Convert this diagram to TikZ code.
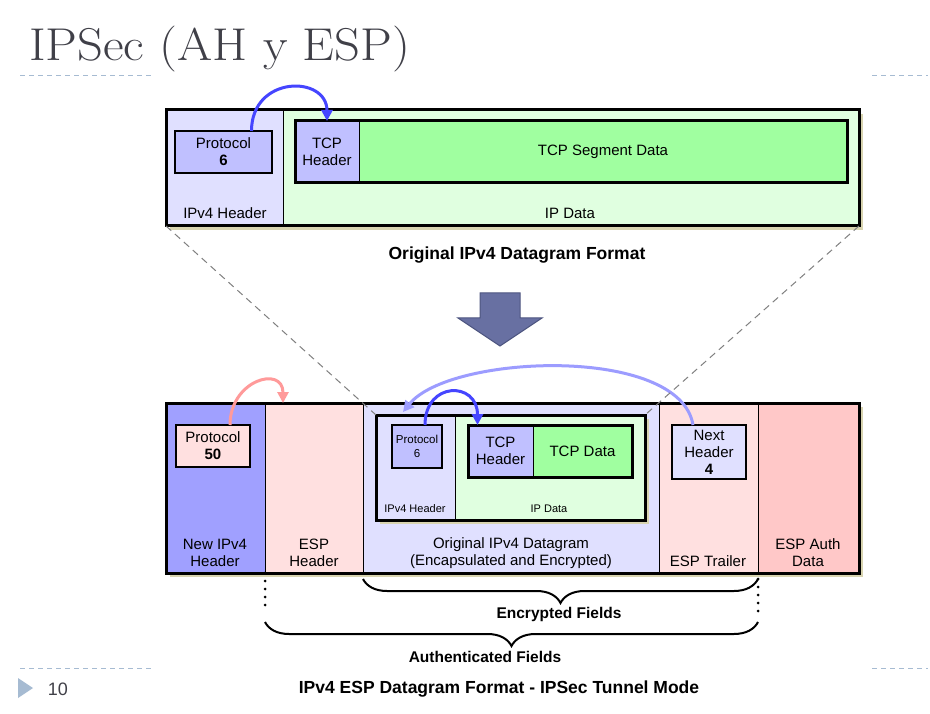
\documentclass[tikz,border=0pt]{standalone}
\usepackage{tikz}
\usepackage{graphicx}
\usepackage{fontspec}
\setsansfont{Liberation Sans}
\usetikzlibrary{arrows.meta}
\usetikzlibrary{shadows}
\usetikzlibrary{decorations.pathreplacing}
\definecolor{lavlight}{HTML}{E0E0FF}
\definecolor{lavmid}{HTML}{C0C0FF}
\definecolor{lavdark}{HTML}{A0A0FF}
\definecolor{greenlight}{HTML}{E0FFE0}
\definecolor{greenmid}{HTML}{A0FFA0}
\definecolor{pinklight}{HTML}{FFE0E0}
\definecolor{pinkmid}{HTML}{FFC8C8}
\definecolor{shadowtan}{HTML}{D8D4B0}
\definecolor{arrowblue}{HTML}{4545FF}
\definecolor{arrowpale}{HTML}{9C9CFF}
\definecolor{arrowpink}{HTML}{FF9A9A}
\definecolor{slate}{HTML}{6870A2}
\definecolor{slatedark}{HTML}{4E5680}
\definecolor{slidegray}{HTML}{404048}
\definecolor{slideblue}{HTML}{A6BBD2}

\begin{document}
\begin{tikzpicture}[x=1pt, y=-1pt]
				\tikzstyle{datafield}=[draw, line width=1pt, inner sep=0pt, outer sep=0pt, anchor=north west, font=\sffamily\fontsize{15}{17}\selectfont, align=center]
				\tikzstyle{outframe}=[draw, line width=3pt, fill=white, inner sep=0pt, outer sep=0pt, anchor=north west, drop shadow={shadow xshift=4pt, shadow yshift=-4pt, fill=shadowtan, opacity=1}]
				\tikzstyle{lbl}=[font=\sffamily\fontsize{15}{17}\selectfont, align=center, inner sep=0pt]
				\tikzstyle{smalllbl}=[font=\sffamily\fontsize{11}{13}\selectfont, inner sep=0pt]
				\tikzstyle{capt}=[font=\sffamily\bfseries\fontsize{17.5}{20}\selectfont, inner sep=0pt]
				\tikzstyle{bracelbl}=[font=\sffamily\bfseries\fontsize{15.5}{18}\selectfont, inner sep=0pt]
				\tikzstyle{hop}=[line width=3pt, -{Triangle[length=11pt,width=11pt]}]
				\tikzstyle{zoomline}=[line width=1pt, gray, dash pattern=on 7pt off 5pt]
				\tikzstyle{fieldbrace}=[decorate, decoration={brace, mirror, amplitude=24pt}, line width=2pt]
				\tikzstyle{dotcol}=[line width=3pt, line cap=round, dash pattern=on 0pt off 8pt]
				\tikzstyle{slidedash}=[slideblue, line width=1pt, dash pattern=on 5pt off 4pt]
				%page
				\fill[white] (0,0) rectangle (930,714);
				\useasboundingbox (0,0) rectangle (930,714);
				%%% SLIDE %%%
				%title
				\node[anchor=base west, inner sep=0pt, text=slidegray, font=\fontsize{46}{50}\selectfont] (title) at (29,61) {\scalebox{1.1}[1]{IPSec (AH y ESP)}};
				%separators
				\draw[slidedash] (20,76) -- (153,76);
				\draw[slidedash] (872,76) -- (928,76);
				\draw[slidedash] (20,668) -- (153,668);
				\draw[slidedash] (872,668) -- (928,668);
				%page number
				\fill[slideblue] (18,678) -- (33,688) -- (18,698) -- cycle;
				\node[text=slidegray, font=\sffamily\fontsize{18}{20}\selectfont, inner sep=0pt] (pagenum) at (58,689) {10};
				%%% ORIGINAL DATAGRAM %%%
				\node[outframe, minimum width=693pt, minimum height=116pt] (topframe) at (166,110) {};
				\node[datafield, fill=lavlight, minimum width=117pt, minimum height=116pt] (tophdr) at (166,110) {};
				\node[datafield, fill=greenlight, minimum width=576pt, minimum height=116pt] (topdata) at (tophdr.north east) {};
				\draw[line width=3pt] (topframe.north west) rectangle (topframe.south east);
				%protocol field
				\node[datafield, line width=2pt, fill=lavmid, minimum width=97pt, minimum height=42pt] (topproto) at (175,131) {Protocol\\\textbf{6}};
				%tcp segment
				\node[datafield, fill=lavmid, minimum width=64pt, minimum height=62pt] (toptcphdr) at (295,121) {TCP\\Header};
				\node[datafield, fill=greenmid, minimum width=488pt, minimum height=62pt] (toptcpdata) at (toptcphdr.north east) {TCP Segment Data};
				\draw[line width=3pt] (toptcphdr.north west) rectangle (toptcpdata.south east);
				%labels
				\node[lbl] (tophdrlbl) at (225,213) {IPv4 Header};
				\node[lbl] (topdatalbl) at (570,213) {IP Data};
				\node[capt] (topcapt) at (517,255) {Original IPv4 Datagram Format};
				%protocol arrow
				\draw[hop, arrowblue] ([xshift=28pt]topproto.north) .. controls +(0,-56) and +(0,-46) .. (toptcphdr.north);
				%%% BIG ARROW %%%
				\filldraw[fill=slate, draw=slatedark, line width=1pt] (480,293) -- (520,293) -- (520,318) -- (542,318) -- (500,346) -- (458,318) -- (480,318) -- cycle;
				%%% ESP DATAGRAM %%%
				\node[outframe, minimum width=693pt, minimum height=170pt] (botframe) at (166,403) {};
				\node[datafield, fill=lavdark, minimum width=99pt, minimum height=170pt] (newhdr) at (166,403) {};
				\node[datafield, fill=pinklight, minimum width=98pt, minimum height=170pt] (esphdr) at (newhdr.north east) {};
				\node[datafield, fill=lavlight, minimum width=296pt, minimum height=170pt] (orig) at (esphdr.north east) {};
				\node[datafield, fill=pinklight, minimum width=99pt, minimum height=170pt] (esptrl) at (orig.north east) {};
				\node[datafield, fill=pinkmid, minimum width=101pt, minimum height=170pt] (espauth) at (esptrl.north east) {};
				\draw[line width=3pt] (botframe.north west) rectangle (botframe.south east);
				%field labels
				\node[lbl] (newhdrlbl) at (215,553) {New IPv4\\Header};
				\node[lbl] (esphdrlbl) at (314,553) {ESP\\Header};
				\node[lbl] (origlbl) at (511,553) {Original IPv4 Datagram\\(Encapsulated and Encrypted)};
				\node[lbl] (esptrllbl) at (708,561) {ESP Trailer};
				\node[lbl] (espauthlbl) at (808,553) {ESP Auth\\Data};
				%new protocol field
				\node[datafield, line width=2pt, fill=pinklight, minimum width=74pt, minimum height=42pt] (proto50) at (176,425) {Protocol\\\textbf{50}};
				%encapsulated datagram
				\node[outframe, minimum width=269pt, minimum height=105pt] (innerframe) at (376,415) {};
				\node[datafield, fill=lavlight, minimum width=79pt, minimum height=105pt] (innerhdr) at (376,415) {};
				\node[datafield, fill=greenlight, minimum width=190pt, minimum height=105pt] (innerdata) at (innerhdr.north east) {};
				\draw[line width=3pt] (innerframe.north west) rectangle (innerframe.south east);
				\node[datafield, line width=2pt, fill=lavmid, minimum width=50pt, minimum height=43pt, font=\sffamily\fontsize{11.5}{14}\selectfont] (proto6) at (392,425) {Protocol\\6};
				\node[smalllbl] (innerhdrlbl) at (415,509) {IPv4 Header};
				\node[smalllbl] (innerdatalbl) at (549,509) {IP Data};
				%inner tcp segment
				\node[datafield, fill=lavmid, minimum width=65pt, minimum height=52pt] (tcphdr) at (468,425) {TCP\\Header};
				\node[datafield, fill=greenmid, minimum width=99pt, minimum height=52pt] (tcpdata) at (tcphdr.north east) {TCP Data};
				\draw[line width=3pt] (tcphdr.north west) rectangle (tcpdata.south east);
				%next header field
				\node[datafield, line width=2pt, fill=lavlight, minimum width=74pt, minimum height=54pt] (nexthdr) at (672,425) {Next\\Header\\\textbf{4}};
				%arrows
				\draw[hop, arrowpink] ([xshift=17pt]proto50.north) .. controls +(0,-45) and +(0,-38) .. ([xshift=-31pt]esphdr.north);
				\draw[hop, arrowblue] ([xshift=8pt]proto6.north) .. controls +(0,-44) and +(0,-44) .. ([xshift=-23pt]tcphdr.north);
				\draw[hop, arrowpale] ([xshift=-16pt]nexthdr.north) .. controls +(-13,-80) and +(47,-58) .. ([xshift=27pt,yshift=3pt]innerframe.north west);
				%zoom lines
				\draw[zoomline] (topframe.south west) -- (innerframe.north west);
				\draw[zoomline] (topframe.south east) -- (innerframe.north east);
				%%% BRACES %%%
				\coordinate (encl) at ([yshift=-6pt]orig.south west);
				\coordinate (encr) at ([yshift=-6pt]esptrl.south east);
				\coordinate (authl) at ([yshift=-49pt]newhdr.south east);
				\coordinate (authr) at ([yshift=-49pt]esptrl.south east);
				\draw[fieldbrace] (encl) -- (encr);
				\draw[fieldbrace] (authl) -- (authr);
				\draw[dotcol] (newhdr.south east) -- ([yshift=10pt]authl);
				\draw[dotcol] (encr) -- ([yshift=10pt]authr);
				\node[bracelbl] (enclbl) at (559,614) {Encrypted Fields};
				\node[bracelbl] (authlbl) at (485,657) {Authenticated Fields};
				\node[capt] (botcapt) at (499,689) {IPv4 ESP Datagram Format - IPSec Tunnel Mode};
\end{tikzpicture}
\end{document}
